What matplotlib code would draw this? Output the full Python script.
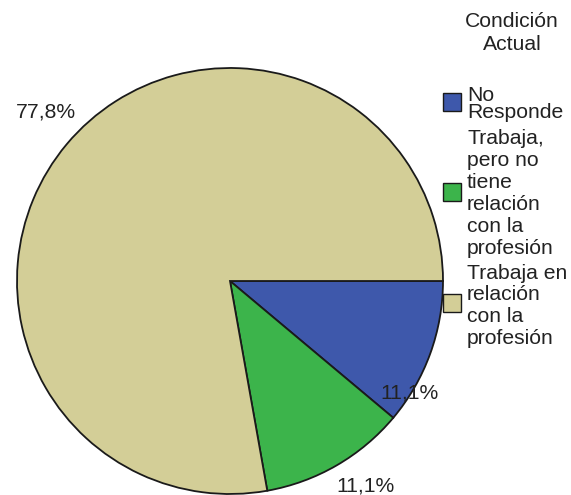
import matplotlib
matplotlib.use("Agg")
import matplotlib.pyplot as plt
from matplotlib.patches import Rectangle

categories = ["No\nResponde",
              "Trabaja,\npero no\ntiene\nrelación\ncon la\nprofesión",
              "Trabaja en\nrelación\ncon la\nprofesión"]
values = [11.1, 11.1, 77.8]
colors = ["#3e58ab", "#3cb44b", "#d3ce97"]
legend_title = "Condición\nActual"

W, H = 571, 495
fig = plt.figure(figsize=(W / 100, H / 100), dpi=100)
ax = fig.add_axes([0, 0, 1, 1])

font = "Liberation Sans"
fs = 15.2
tc = "#222222"

cx, cy, r = 230, H - 281, 213
wedges, _ = ax.pie(values, colors=colors, startangle=0, counterclock=False,
                   center=(cx, cy), radius=r, frame=True,
                   wedgeprops=dict(edgecolor="#1a1a1a", linewidth=1.3))
ax.set_xlim(0, W)
ax.set_ylim(0, H)
ax.set_aspect("equal")
ax.axis("off")

def fmt(v):
    return f"{v:.1f}".replace(".", ",") + "%"

label_pos = [(409, H - 393), (366, H - 486), (46, H - 112)]
for v, (x, y) in zip(values, label_pos):
    ax.text(x, y, fmt(v), ha="center", va="center", fontsize=fs,
            family=font, color=tc)

def lines_at(text, x, base, step, ha):
    for i, ln in enumerate(text.split("\n")):
        ax.text(x, H - (base + i * step), ln, ha=ha, va="baseline",
                fontsize=fs, family=font, color=tc)

# legend title
lines_at(legend_title, 512, 27, 23, "center")

# legend entries
first_baselines = [101, 144, 279]
steps = [17.5, 22.0, 21.5]
patch_tops = [93, 183, 294]
for lab, c, b, s, pt in zip(categories, colors, first_baselines, steps, patch_tops):
    ax.add_patch(Rectangle((443, H - pt - 18), 18, 18, facecolor=c,
                           edgecolor="#1a1a1a", linewidth=1.0))
    lines_at(lab, 467, b, s, "left")

fig.savefig("out.png", dpi=100)
